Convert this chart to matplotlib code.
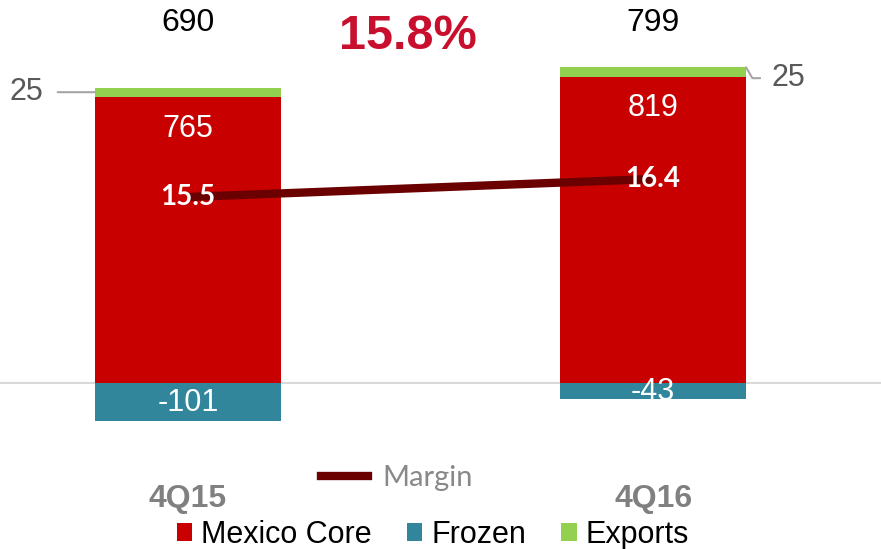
import matplotlib
matplotlib.use('Agg')
import matplotlib.pyplot as plt
from matplotlib.lines import Line2D

quarters = ['4Q15', '4Q16']
mexico_core = [765, 819]
frozen = [-101, -43]
exports = [25, 25]
totals = [690, 799]
margin = [15.5, 16.4]
growth_label = '15.8%'

red = '#c80000'
teal = '#31869c'
green = '#92d050'
maroon = '#6b0000'

plt.rcParams['font.family'] = ['Liberation Sans', 'DejaVu Sans']

fig = plt.figure(figsize=(8.81, 5.49), dpi=100)
ax = fig.add_axes([0, 0, 1, 1])
x = list(range(len(quarters)))
w = 0.4

b1 = ax.bar(x, mexico_core, w, color=red, label='Mexico Core', zorder=2)
b2 = ax.bar(x, frozen, w, color=teal, label='Frozen', zorder=2)
b3 = ax.bar(x, exports, w, bottom=mexico_core, color=green, label='Exports', zorder=2)
ax.axhline(0, color='#d9d9d9', lw=1.5, zorder=1)

ax.set_xlim(-0.404, 1.49)
ax.set_ylim(-444, 1024)
ax.axis('off')

for i in x:
    ax.text(i, 962, str(totals[i]), ha='center', va='center', fontsize=23, color='black')
    ax.text(i, mexico_core[i] - 85, str(mexico_core[i]), ha='center', va='center',
            fontsize=22, color='white', zorder=3)
    ax.text(i, frozen[i] / 2 - 4, str(frozen[i]), ha='center', va='center',
            fontsize=22, color='white', zorder=3)
    ax.text(i, -310, quarters[i], ha='center', va='center', fontsize=23,
            fontweight='bold', color='#808080')

# exports callouts
ex_mid = mexico_core[0] + exports[0] / 2
ax.annotate(str(exports[0]), xy=(x[0] - w / 2, ex_mid),
            xytext=(-0.31, ex_mid), ha='right', va='center',
            fontsize=22, color='#595959',
            arrowprops=dict(arrowstyle='-', color='#a6a6a6', lw=1.5, shrinkA=8, shrinkB=0))
ax.annotate(str(exports[1]), xy=(x[1] + w / 2, mexico_core[1] + exports[1]),
            xytext=(1.254, 815), ha='left', va='center',
            fontsize=22, color='#595959',
            arrowprops=dict(arrowstyle='-', color='#a6a6a6', lw=1.5, shrinkA=6, shrinkB=0,
                            connectionstyle='angle,angleA=0,angleB=-60,rad=0'))

ax.text(0.473, 926, growth_label, ha='center', va='center', fontsize=35,
        fontweight='bold', color='#c8102e')

# margin on a hidden secondary axis
ax2 = ax.twinx()
ax2.set_ylim(-2.1, 25.35)
ax2.axis('off')
ax2.plot(x, margin, color=maroon, lw=6, solid_capstyle='butt')
for i in x:
    ax2.text(i, margin[i], f'{margin[i]:.1f}', ha='center', va='center', fontsize=20,
             fontweight='bold', color='white', family=['Lato', 'DejaVu Sans'])

fig.legend(handles=[Line2D([], [], color=maroon, lw=6)], labels=['Margin'],
           loc='center', bbox_to_anchor=(397 / 881, 1 - 478 / 549), frameon=False,
           handlelength=1.6, handletextpad=0.5,
           prop={'family': ['Lato', 'DejaVu Sans'], 'size': 21}, labelcolor='#898989')
fig.legend(handles=[b1, b2, b3], labels=['Mexico Core', 'Frozen', 'Exports'],
           loc='center', bbox_to_anchor=(433 / 881, 1 - 535 / 549), frameon=False,
           ncol=3, handlelength=0.5, handleheight=0.5, handletextpad=0.3,
           columnspacing=1.15, fontsize=22)

fig.savefig('out.png', dpi=100)
